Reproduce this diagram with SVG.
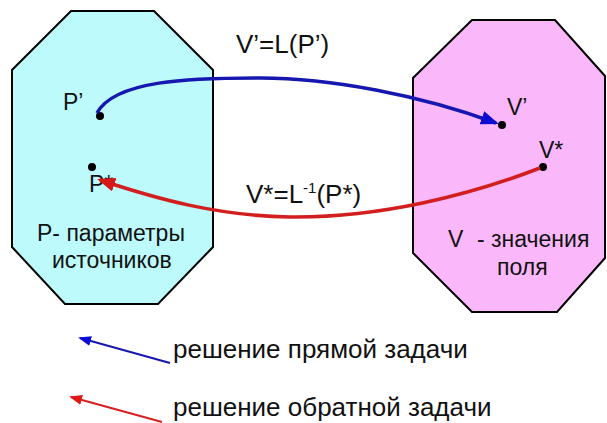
<svg xmlns="http://www.w3.org/2000/svg" width="607" height="423" viewBox="0 0 607 423">
<defs>
<style>
.oct{stroke:#000;stroke-width:2;stroke-linejoin:miter}
.t{font-family:"Liberation Sans",Arial,sans-serif;fill:#111}
.n{font-size:23px}
.e{font-size:26px}
.lg{font-size:26px}
.dot{fill:#000}
.blue{fill:none;stroke:#1616b0;stroke-width:3.5}
.red{fill:none;stroke:#d21e1e;stroke-width:3.5}
.lblue{fill:none;stroke:#1616b0;stroke-width:2}
.lred{fill:none;stroke:#d82020;stroke-width:2}
</style>
<marker id="ab" markerUnits="userSpaceOnUse" markerWidth="18" markerHeight="14" refX="15" refY="7" orient="auto"><path d="M0,0 L18,7 L0,14 z" fill="#0c0cd0"/></marker>
<marker id="ar" markerUnits="userSpaceOnUse" markerWidth="18" markerHeight="14" refX="15" refY="7" orient="auto"><path d="M0,0 L18,7 L0,14 z" fill="#d81818"/></marker>
<marker id="sb" markerUnits="userSpaceOnUse" markerWidth="13" markerHeight="10" refX="11" refY="5" orient="auto"><path d="M0,0 L13,5 L0,10 z" fill="#0c0cd8"/></marker>
<marker id="sr" markerUnits="userSpaceOnUse" markerWidth="13" markerHeight="10" refX="11" refY="5" orient="auto"><path d="M0,0 L13,5 L0,10 z" fill="#e01818"/></marker>
</defs>
<rect width="607" height="423" fill="#fff"/>
<g id="node-P">
<polygon class="oct" fill="#bcfafc" points="71,11 154,11 213,70 213,247 158,304 65,304 12,247 12,70"/>
<text class="t n" x="37" y="241">P- параметры</text>
<text class="t n" x="52" y="268">источников</text>
</g>
<g id="node-V">
<polygon class="oct" fill="#fab8fa" points="472,20 555,20 605,76 605,258 557,312 472,312 413,253 413,78"/>
<text class="t n" x="448" y="247" xml:space="preserve">V <tspan x="477">- значения</tspan></text>
<text class="t n" x="497" y="275">поля</text>
</g>
<g id="point-P1">
<circle class="dot" cx="100" cy="116" r="4"/>
<text class="t n" x="63" y="110">P’</text>
</g>
<g id="point-P2">
<circle class="dot" cx="92" cy="167" r="4"/>
<text class="t n" x="89" y="192">P*</text>
</g>
<g id="point-V1">
<circle class="dot" cx="502" cy="125" r="4"/>
<text class="t n" x="507" y="115">V’</text>
</g>
<g id="point-V2">
<circle class="dot" cx="543" cy="167" r="4"/>
<text class="t n" x="539" y="158">V*</text>
</g>
<g id="connectors">
<path class="blue" marker-end="url(#ab)" d="M97,113 C115,80 190,78 260,78 C330,78 420,95 496,123"/>
<path class="red" marker-end="url(#ar)" d="M540,168 C470,195 380,218 290,217 C220,216 160,200 100,180"/>
<text class="t e" x="236" y="53">V’=L(P’)</text>
<text class="t e" x="246" y="203">V*=L<tspan font-size="15" dy="-10">-1</tspan><tspan dy="10">(P*)</tspan></text>
</g>
<g id="legend">
<path class="lblue" marker-end="url(#sb)" d="M170,363 L80,338"/>
<text class="t lg" x="173" y="358">решение прямой задачи</text>
<path class="lred" marker-end="url(#sr)" d="M162,422 L71,397"/>
<text class="t lg" x="173" y="416">решение обратной задачи</text>
</g>
</svg>
